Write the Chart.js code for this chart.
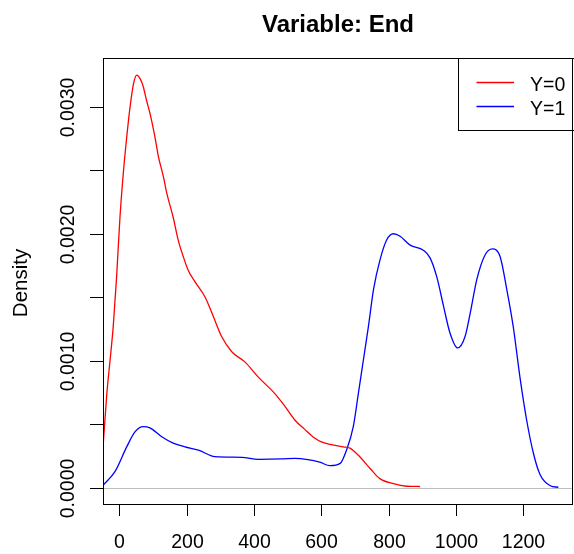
<!DOCTYPE html>
<html>
<head>
<meta charset="utf-8">
<script src="https://cdn.jsdelivr.net/npm/chart.js@4.4.1/dist/chart.umd.min.js"></script>
<style>
html,body{margin:0;padding:0;background:#fff;}
#wrap{width:574px;height:554px;}
</style>
</head>
<body>
<div id="wrap"><canvas id="c" width="574" height="554"></canvas></div>
<script>
// ---- data ----
const chartTitle = "Variable: End";
const yAxisTitle = "Density";
const seriesNames = ["Y=0", "Y=1"];

const y0X = [-47.5, -37, -27.5, -18, -8, 2, 12, 22, 32, 42, 52, 62, 71, 81, 91, 106, 116, 131, 141, 160, 175, 190, 205, 225, 255, 279, 304, 334, 373, 413, 462, 492, 522, 550, 580, 600, 626, 665, 685, 715, 745, 774, 814, 854, 893];
const y0Density = [0.00035, 0.00074, 0.00100, 0.00127, 0.00166, 0.00213, 0.00248, 0.00276, 0.00300, 0.00318, 0.00325, 0.00322, 0.00316, 0.00305, 0.00295, 0.00276, 0.00261, 0.00245, 0.00232, 0.00213, 0.00195, 0.00182, 0.00171, 0.00162, 0.00150, 0.00135, 0.00119, 0.00107, 0.00099, 0.00087, 0.00074, 0.00064, 0.00053, 0.00046, 0.00039, 0.00036, 0.00034, 0.00032, 0.00031, 0.00024, 0.00015, 0.00007, 0.00003, 0.00001, 0.000008];

const y1X = [-47.5, -13, 22, 47, 71, 91, 126, 160, 195, 235, 284, 364, 413, 482, 522, 560, 595, 626, 656, 675, 695, 710, 725, 740, 755, 774, 794, 814, 834, 864, 903, 923, 943, 963, 982, 1005, 1027, 1042, 1062, 1086, 1108, 1131, 1151, 1170, 1190, 1210, 1230, 1250, 1280, 1304];
const y1Density = [0.00002, 0.000125, 0.00032, 0.00044, 0.00048, 0.00047, 0.00040, 0.00035, 0.00032, 0.000295, 0.000243, 0.000238, 0.000222, 0.000225, 0.00023, 0.00022, 0.0002, 0.000172, 0.00019, 0.000296, 0.00048, 0.00074, 0.001005, 0.00127, 0.00156, 0.00179, 0.00195, 0.0020, 0.00198, 0.00191, 0.00187, 0.00181, 0.00166, 0.00143, 0.00122, 0.0011, 0.00119, 0.00137, 0.00164, 0.00183, 0.00188, 0.00182, 0.00156, 0.00127, 0.00087, 0.00053, 0.00027, 0.0001, 0.000014, 0.000002];

const xTickValues = [0, 200, 400, 600, 800, 1000, 1200];
const xTickLabels = ["0", "200", "400", "600", "800", "1000", "1200"];
const yTickValues = [0, 0.0005, 0.0010, 0.0015, 0.0020, 0.0025, 0.0030];
const yTickLabels = ["0.0000", "", "0.0010", "", "0.0020", "", "0.0030"];

// ---- build ----
const toPts = (xs, ys) => xs.map((x, i) => ({x: x, y: ys[i]}));
const FONT = '"Liberation Sans", Arial, Helvetica, sans-serif';

const rStyle = {
  id: 'rStyle',
  beforeDatasetsDraw(chart) {
    const ctx = chart.ctx, a = chart.chartArea, ys = chart.scales.y;
    const y0 = Math.round(ys.getPixelForValue(0)) + 0.5;
    ctx.save();
    ctx.strokeStyle = '#BEBEBE';
    ctx.lineWidth = 1;
    ctx.beginPath();
    ctx.moveTo(a.left, y0); ctx.lineTo(a.right, y0);
    ctx.stroke();
    ctx.restore();
  },
  afterDraw(chart) {
    const ctx = chart.ctx, a = chart.chartArea;
    const xs = chart.scales.x, ys = chart.scales.y;
    ctx.save();
    ctx.strokeStyle = '#000'; ctx.fillStyle = '#000'; ctx.lineWidth = 1;
    // box
    ctx.strokeRect(Math.round(a.left) + 0.5, Math.round(a.top) + 0.5,
                   Math.round(a.right - a.left) - 1, Math.round(a.bottom - a.top));
    // x ticks
    ctx.font = '19.5px ' + FONT;
    ctx.textAlign = 'center'; ctx.textBaseline = 'alphabetic';
    xs.ticks.forEach((t, i) => {
      const px = Math.round(xs.getPixelForValue(t.value)) + 0.5;
      ctx.beginPath(); ctx.moveTo(px, a.bottom); ctx.lineTo(px, a.bottom + 12); ctx.stroke();
      ctx.fillText(xTickLabels[i], px, 548);
    });
    // y ticks
    ys.ticks.forEach((t, i) => {
      const py = Math.round(ys.getPixelForValue(t.value)) + 0.5;
      ctx.beginPath(); ctx.moveTo(a.left - 13, py); ctx.lineTo(a.left, py); ctx.stroke();
      if (yTickLabels[i]) {
        ctx.save();
        ctx.translate(74, py);
        ctx.rotate(-Math.PI / 2);
        ctx.fillText(yTickLabels[i], 0, 0);
        ctx.restore();
      }
    });
    // y axis title
    ctx.save();
    ctx.font = '20.5px ' + FONT;
    ctx.translate(26.5, (a.top + a.bottom) / 2 + 2);
    ctx.rotate(-Math.PI / 2);
    ctx.fillText(yAxisTitle, 0, 0);
    ctx.restore();
    // title
    ctx.font = 'bold 24px ' + FONT;
    ctx.fillText(chartTitle, (a.left + a.right) / 2, 32);
    // legend
    const lx = 458.5, ly = Math.round(a.top) + 0.5, lw = 116, lh = 72;
    ctx.strokeRect(lx, ly, lw, lh);
    const cols = chart.data.datasets.map(d => d.borderColor);
    const rows = [82.5, 106.5];
    const bases = [90.5, 114.5];
    ctx.font = '19.5px ' + FONT;
    ctx.textAlign = 'left';
    seriesNames.forEach((n, i) => {
      ctx.strokeStyle = cols[i]; ctx.lineWidth = 1.3;
      ctx.beginPath(); ctx.moveTo(476.5, rows[i]); ctx.lineTo(514, rows[i]); ctx.stroke();
      ctx.fillStyle = '#000';
      ctx.fillText(n, 530, bases[i]);
    });
    ctx.restore();
  }
};

new Chart(document.getElementById('c'), {
  type: 'line',
  data: {
    datasets: [
      {label: seriesNames[0], data: toPts(y0X, y0Density), borderColor: '#FF0000', borderWidth: 1.3,
       pointRadius: 0, fill: false, cubicInterpolationMode: 'monotone'},
      {label: seriesNames[1], data: toPts(y1X, y1Density), borderColor: '#0000FF', borderWidth: 1.3,
       pointRadius: 0, fill: false, cubicInterpolationMode: 'monotone'}
    ]
  },
  options: {
    responsive: false,
    devicePixelRatio: 1,
    animation: false,
    layout: {padding: {left: 103, right: 1, top: 58, bottom: 50}},
    plugins: {legend: {display: false}, title: {display: false}, tooltip: {enabled: false}},
    scales: {
      x: {type: 'linear', display: false, min: -48.4, max: 1347.6,
          afterBuildTicks: s => { s.ticks = xTickValues.map(v => ({value: v})); }},
      y: {type: 'linear', display: false, min: -0.00013, max: 0.003385,
          afterBuildTicks: s => { s.ticks = yTickValues.map(v => ({value: v})); }}
    }
  },
  plugins: [rStyle]
});
</script>
</body>
</html>
